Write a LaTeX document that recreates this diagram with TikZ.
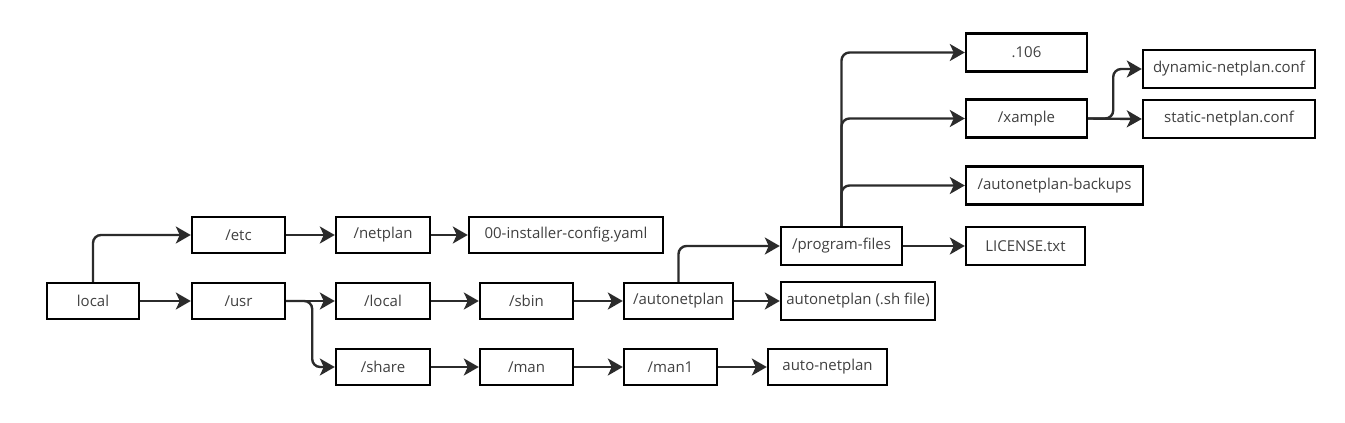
\documentclass[tikz,border=0pt]{standalone}
\usepackage{fontspec}
\setmainfont{Open Sans}
\usetikzlibrary{arrows.meta}
\definecolor{ln}{HTML}{2B2B2B}
\tikzset{
  box/.style={draw=black, line width=2.4pt, minimum height=36pt, inner sep=0pt, font=\fontsize{15}{17}\selectfont, text=ln!90},
  conn/.style={draw=ln, line width=2.4pt, rounded corners=8pt, -{Stealth[length=15pt,width=17pt,inset=4pt]}},
}
\begin{document}
\begin{tikzpicture}[x=1pt,y=-1pt]
\useasboundingbox (0,0) rectangle (1345,423);
\node[box, minimum width=92pt] (local) at (93,301) {local};
\node[box, minimum width=93pt] (etc) at (238.5,235) {/etc};
\node[box, minimum width=93pt] (usr) at (238.5,301) {/usr};
\node[box, minimum width=94pt] (netplan) at (383,235) {/netplan};
\node[box, minimum width=194pt] (installer) at (566,235) {00-installer-config.yaml};
\node[box, minimum width=94pt] (loc) at (383,301) {/local};
\node[box, minimum width=93pt] (sbin) at (526.5,301) {/sbin};
\node[box, minimum width=109pt] (anp) at (678.5,301) {/autonetplan};
\node[box, minimum width=94pt] (share) at (383,367) {/share};
\node[box, minimum width=93pt] (man) at (526.5,367) {/man};
\node[box, minimum width=93pt] (man1) at (670.5,367) {/man1};
\node[box, minimum width=119pt] (autonet) at (827.5,367) {auto-netplan};
\node[box, minimum width=121pt, minimum height=38pt] (prog) at (841.5,246) {/program-files};
\node[box, minimum width=154pt, minimum height=38pt] (sh) at (858,301) {autonetplan (.sh file)};
\node[box, minimum width=119pt, minimum height=38pt] (license) at (1025.5,246) {LICENSE.txt};
\node[box, minimum width=121pt, minimum height=38pt] (n106) at (1026.5,52.5) {.106};
\node[box, minimum width=121pt, minimum height=38pt] (xample) at (1026.5,118.5) {/xample};
\node[box, minimum width=177pt, minimum height=38pt] (backups) at (1054.5,185.5) {/autonetplan-backups};
\node[box, minimum width=172pt, minimum height=38pt] (dynamic) at (1229,69) {dynamic-netplan.conf};
\node[box, minimum width=172pt, minimum height=38pt] (static) at (1229,119) {static-netplan.conf};

\draw[conn] (local.north) |- (etc.west);
\draw[conn] (local.east) -- (usr.west);
\draw[conn] (etc.east) -- (netplan.west);
\draw[conn] (netplan.east) -- (installer.west);
\draw[conn] (usr.east) -- (loc.west);
\draw[conn] (usr.east) -- ++(26,0) |- (share.west);
\draw[conn] (loc.east) -- (sbin.west);
\draw[conn] (sbin.east) -- (anp.west);
\draw[conn] (anp.east) -- (anp.east -| sh.west);
\draw[conn] (anp.north) |- (prog.west);
\draw[conn] (share.east) -- (man.west);
\draw[conn] (man.east) -- (man1.west);
\draw[conn] (man1.east) -- (autonet.west);
\draw[conn] (prog.east) -- (license.west);
\draw[conn] (prog.north) |- (n106.west);
\draw[conn] (prog.north) |- (xample.west);
\draw[conn] (prog.north) |- (backups.west);
\draw[conn] (xample.east) -- (static.west);
\draw[conn] (xample.east) -- ++(25,0) |- (dynamic.west);
\end{tikzpicture}
\end{document}
